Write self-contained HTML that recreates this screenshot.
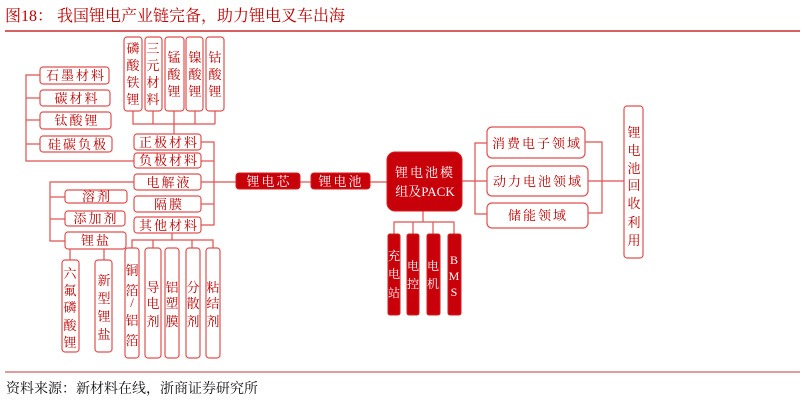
<!DOCTYPE html>
<html><head><meta charset="utf-8"><style>
html,body{margin:0;padding:0;background:#fff;}
svg{display:block;}
text{font-family:"Liberation Serif","Noto Serif CJK SC","Noto Sans CJK SC",serif;}
.t{fill:#c00000;font-size:13px;text-anchor:middle;}
.w{fill:#fff;font-size:13px;text-anchor:middle;}
.b{fill:#fff;stroke:#e05050;stroke-width:1.2;}
.f{fill:#c8000a;stroke:#d02020;stroke-width:1;}
.l{stroke:#e05050;stroke-width:1.2;fill:none;}
</style></head><body>
<svg width="802" height="402" viewBox="0 0 802 402" xmlns="http://www.w3.org/2000/svg">
<text x="5" y="21" style="font-size:16px;fill:#c00000;">图18：  我国锂电产业链完备，助力锂电叉车出海</text>
<line x1="5" y1="31" x2="800" y2="31" stroke="#c00000" stroke-width="1.2"/>
<line x1="5" y1="372" x2="800" y2="372" stroke="#d06060" stroke-width="1.2"/>
<text x="6" y="393" style="font-size:14px;fill:#111;">资料来源：新材料在线，浙商证券研究所</text>

<!-- lines -->
<g class="l">
<polyline points="133,111 133,124 215,124"/>
<line x1="153" y1="111" x2="153" y2="124"/><line x1="174" y1="111" x2="174" y2="134"/>
<line x1="195" y1="111" x2="195" y2="124"/><line x1="215" y1="111" x2="215" y2="124"/>
<polyline points="40,75 26,75 26,161 134,161"/>
<line x1="26" y1="98" x2="40" y2="98"/><line x1="26" y1="120" x2="40" y2="120"/><line x1="26" y1="144" x2="40" y2="144"/>
<polyline points="201,142 214,142 214,225 201,225"/>
<line x1="201" y1="161" x2="214" y2="161"/><line x1="201" y1="204" x2="214" y2="204"/>
<line x1="201" y1="182" x2="236" y2="182"/>
<line x1="300" y1="182" x2="311" y2="182"/>
<line x1="370" y1="182" x2="387" y2="182"/>
<polyline points="134,182 50,182 50,241 65,241"/>
<line x1="50" y1="197" x2="65" y2="197"/><line x1="50" y1="219" x2="65" y2="219"/>
<line x1="70" y1="249" x2="70" y2="260"/><line x1="104" y1="249" x2="104" y2="260"/>
<line x1="172" y1="233" x2="172" y2="240"/>
<polyline points="132,248 132,240 213,240 213,248"/>
<line x1="153" y1="240" x2="153" y2="248"/><line x1="192" y1="240" x2="192" y2="248"/>
<line x1="423" y1="211" x2="423" y2="222"/>
<polyline points="394,234 394,222 454,222 454,234"/>
<line x1="413" y1="222" x2="413" y2="234"/><line x1="433" y1="222" x2="433" y2="234"/>
<line x1="462" y1="181" x2="487" y2="181"/>
<polyline points="487,143 475,143 475,214 487,214"/>
<polyline points="585,142 602,142 602,213 588,213"/>
<line x1="588" y1="181" x2="624" y2="181"/>
</g>

<!-- top boxes -->
<rect class="b" x="124" y="37" width="18" height="74" rx="3"/>
<rect class="b" x="145" y="37" width="17" height="74" rx="3"/>
<rect class="b" x="165" y="37" width="19" height="74" rx="3"/>
<rect class="b" x="186" y="37" width="17" height="74" rx="3"/>
<rect class="b" x="206" y="37" width="18" height="74" rx="3"/>
<g class="t">
<text x="133" y="53">磷</text><text x="133" y="70">酸</text><text x="133" y="87">铁</text><text x="133" y="104">锂</text>
<text x="153" y="53">三</text><text x="153" y="70">元</text><text x="153" y="87">材</text><text x="153" y="104">料</text>
<text x="174" y="62">锰</text><text x="174" y="79">酸</text><text x="174" y="96">锂</text>
<text x="195" y="62">镍</text><text x="195" y="79">酸</text><text x="195" y="96">锂</text>
<text x="215" y="62">钴</text><text x="215" y="79">酸</text><text x="215" y="96">锂</text>
</g>

<!-- left boxes -->
<rect class="b" x="40" y="67" width="69" height="17" rx="3"/>
<rect class="b" x="40" y="90" width="70" height="16" rx="3"/>
<rect class="b" x="40" y="112" width="71" height="17" rx="3"/>
<rect class="b" x="40" y="136" width="72" height="16" rx="3"/>
<g class="t" style="letter-spacing:2px">
<text x="76" y="80">石墨材料</text><text x="77" y="103">碳材料</text><text x="77" y="125">钛酸锂</text><text x="78" y="149">硅碳负极</text>
</g>

<!-- middle boxes -->
<rect class="b" x="134" y="134" width="67" height="16" rx="3"/>
<rect class="b" x="134" y="153" width="67" height="15" rx="3"/>
<rect class="b" x="134" y="174" width="67" height="16" rx="3"/>
<rect class="b" x="134" y="196" width="67" height="16" rx="3"/>
<rect class="b" x="134" y="217" width="67" height="16" rx="3"/>
<g class="t" style="letter-spacing:2px">
<text x="169" y="147">正极材料</text><text x="169" y="165">负极材料</text><text x="169" y="187">电解液</text>
<text x="169" y="209">隔膜</text><text x="169" y="230">其他材料</text>
</g>

<!-- electrolyte sub -->
<rect class="b" x="65" y="190" width="62" height="13" rx="3"/>
<rect class="b" x="65" y="211" width="60" height="15" rx="3"/>
<rect class="b" x="65" y="232" width="61" height="17" rx="3"/>
<g class="t" style="letter-spacing:2px">
<text x="97" y="201">溶剂</text><text x="96" y="223">添加剂</text><text x="96" y="245">锂盐</text>
</g>
<rect class="b" x="62" y="260" width="17" height="92" rx="3"/>
<rect class="b" x="95" y="260" width="17" height="92" rx="3"/>
<g class="t">
<text x="70" y="278">六</text><text x="70" y="295">氟</text><text x="70" y="312">磷</text><text x="70" y="330">酸</text><text x="70" y="347">锂</text>
<text x="104" y="285">新</text><text x="104" y="303">型</text><text x="104" y="321">锂</text><text x="104" y="339">盐</text>
</g>

<!-- other materials sub -->
<rect class="b" x="125" y="248" width="14" height="110" rx="3"/>
<rect class="b" x="145" y="248" width="16" height="110" rx="3"/>
<rect class="b" x="165" y="248" width="14" height="110" rx="3"/>
<rect class="b" x="186" y="248" width="14" height="110" rx="3"/>
<rect class="b" x="206" y="248" width="14" height="110" rx="3"/>
<g class="t">
<text x="132" y="275">铜</text><text x="132" y="295">箔</text><text x="132" y="307">/</text><text x="132" y="325">铝</text><text x="132" y="345">箔</text>
<text x="153" y="292">导</text><text x="153" y="308">电</text><text x="153" y="326">剂</text>
<text x="172" y="292">铝</text><text x="172" y="308">塑</text><text x="172" y="326">膜</text>
<text x="193" y="292">分</text><text x="193" y="308">散</text><text x="193" y="326">剂</text>
<text x="213" y="292">粘</text><text x="213" y="308">结</text><text x="213" y="326">剂</text>
</g>

<!-- chain -->
<rect class="f" x="236" y="173" width="64" height="16" rx="3"/>
<rect class="f" x="311" y="173" width="59" height="16" rx="3"/>
<g class="w" style="letter-spacing:2px"><text x="269" y="186">锂电芯</text><text x="341" y="186">锂电池</text></g>
<rect class="f" x="387" y="152" width="75" height="59" rx="8"/>
<g class="w"><text x="425" y="177" style="letter-spacing:2px">锂电池模</text><text x="425" y="196">组及PACK</text></g>

<rect class="f" x="388" y="234" width="12" height="81" rx="2"/>
<rect class="f" x="407" y="234" width="12" height="81" rx="2"/>
<rect class="f" x="427" y="234" width="13" height="81" rx="2"/>
<rect class="f" x="448" y="234" width="13" height="81" rx="2"/>
<g class="w" style="font-size:12px">
<text x="394" y="260">充</text><text x="394" y="278">电</text><text x="394" y="297">站</text>
<text x="413" y="270">电</text><text x="413" y="288">控</text>
<text x="433" y="270">电</text><text x="433" y="288">机</text>
<text x="454" y="264">B</text><text x="454" y="280">M</text><text x="454" y="296">S</text>
</g>

<!-- applications -->
<rect class="b" x="487" y="127" width="98" height="31" rx="5"/>
<rect class="b" x="487" y="166" width="101" height="30" rx="5"/>
<rect class="b" x="487" y="203" width="101" height="25" rx="5"/>
<g class="t" style="letter-spacing:2px">
<text x="537" y="148">消费电子领域</text><text x="538" y="186">动力电池领域</text><text x="538" y="220">储能领域</text>
</g>
<rect class="b" x="624" y="106" width="19" height="152" rx="3"/>
<g class="t">
<text x="634" y="137">锂</text><text x="634" y="155">电</text><text x="634" y="173">池</text><text x="634" y="190">回</text>
<text x="634" y="208">收</text><text x="634" y="227">利</text><text x="634" y="245">用</text>
</g>
</svg>
</body></html>
